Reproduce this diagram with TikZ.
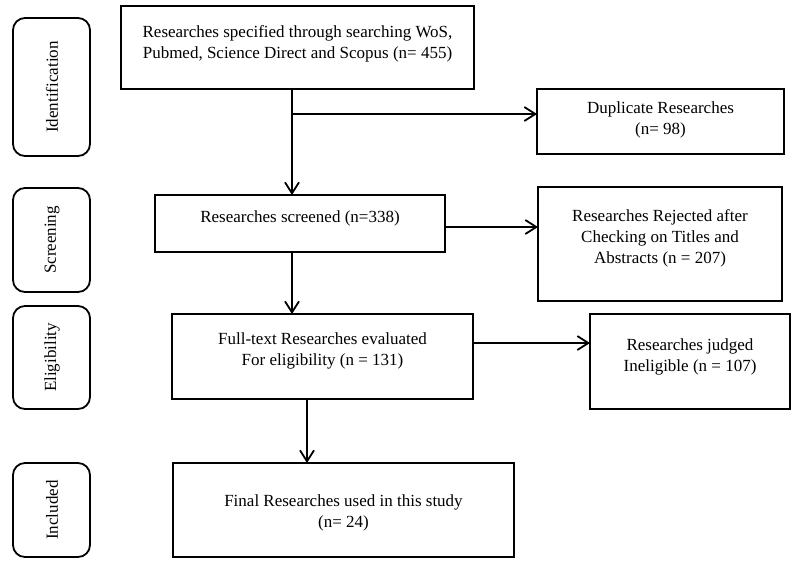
\documentclass[tikz,border=0pt]{standalone}
\usepackage{fontspec}
\setmainfont{Liberation Serif}
\usetikzlibrary{arrows.meta}
\begin{document}
\begin{tikzpicture}[x=1pt,y=-1pt,
  box/.style={draw=black,line width=1.8pt,rectangle,inner sep=0pt,outer sep=0pt},
  sidebox/.style={box,rounded corners=12pt,minimum width=77pt},
  txt/.style={align=center,inner sep=0pt,font=\fontsize{17}{21}\selectfont},
  sidetxt/.style={inner sep=0pt,rotate=90,font=\fontsize{17}{21}\selectfont},
  arr/.style={line width=1.8pt,-{Straight Barb[length=11pt,width=14pt]}},
  ln/.style={line width=1.8pt}]
\useasboundingbox (0,0) rectangle (799,566);
% side boxes
\node[sidebox,minimum height=138pt] (ident) at (51.5,87) {};
\node[sidetxt] (identt) at (52,87) {Identification};
\node[sidebox,minimum height=104pt] (scr) at (51.5,240) {};
\node[sidetxt] (scrt) at (52,240) {Screening};
\node[sidebox,minimum height=103pt] (elig) at (51.5,357.5) {};
\node[sidetxt] (eligt) at (52,357.5) {Eligibility};
\node[sidebox,minimum height=94pt] (incl) at (51.5,510) {};
\node[sidetxt] (inclt) at (52,510) {Included};
% main boxes
\node[box,minimum width=353pt,minimum height=83pt] (top) at (297.5,47.5) {};
\node[txt] (topt) at (297.5,43.5) {Researches specified through searching WoS,\\Pubmed, Science Direct and Scopus (n= 455)};
\node[box,minimum width=247pt,minimum height=65pt] (dup) at (660.5,121.5) {};
\node[txt] (dupt) at (660.5,120) {Duplicate Researches\\(n= 98)};
\node[box,minimum width=290pt,minimum height=57pt] (screened) at (300,223.5) {};
\node[txt] (screenedt) at (300,218) {Researches screened (n=338)};
\node[box,minimum width=244pt,minimum height=114pt] (rej) at (660,244) {};
\node[txt] (rejt) at (660,238.5) {Researches Rejected after\\Checking on Titles and\\Abstracts (n = 207)};
\node[box,minimum width=301pt,minimum height=85pt] (full) at (322.5,356.5) {};
\node[txt] (fullt) at (322.5,351) {Full-text Researches evaluated\\For eligibility (n = 131)};
\node[box,minimum width=200pt,minimum height=95pt] (judged) at (690,361.5) {};
\node[txt] (judgedt) at (690,357) {Researches judged\\Ineligible (n = 107)};
\node[box,minimum width=341pt,minimum height=94pt] (final) at (343.5,510) {};
\node[txt] (finalt) at (343.5,512.5) {Final Researches used in this study\\(n= 24)};
% connectors
\coordinate (c1) at (292,89);
\coordinate (br) at (292,114);
\coordinate (c2) at (292,252);
\coordinate (c3) at (307,399);
\coordinate (e1) at (445,227);
\coordinate (e2) at (473,343);
\draw[arr] (c1) -- (c1 |- screened.north);
\draw[arr] (br) -- (br -| dup.west);
\draw[arr] (c2) -- (c2 |- full.north);
\draw[arr] (e1) -- (e1 -| rej.west);
\draw[arr] (e2) -- (e2 -| judged.west);
\draw[arr] (c3) -- (c3 |- final.north);
\end{tikzpicture}
\end{document}
